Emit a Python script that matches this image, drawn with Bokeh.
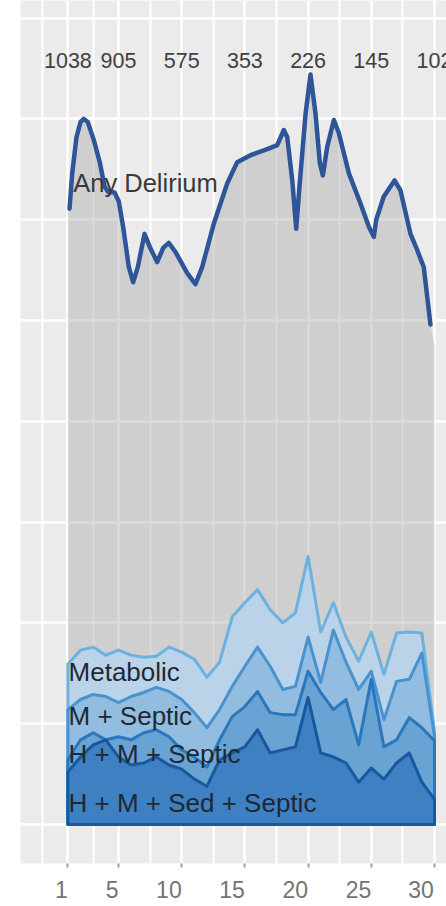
from bokeh.plotting import figure
from bokeh.models import FixedTicker
from bokeh.core.properties import value
from bokeh.embed import file_html
from bokeh.resources import INLINE

# ---------------- data ----------------
days = list(range(1, 31))

# "Any Delirium" curve: day, percent
any_days = [1.0, 1.13, 1.34, 1.68, 2.0, 2.26, 2.57, 3.05, 3.52, 3.9, 4.16, 4.69,
            5.03, 5.37, 5.82, 6.16, 6.53, 7.06, 7.48, 8.06, 8.54, 8.98, 9.51,
            10.44, 11.09, 11.62, 12.54, 13.6, 14.39, 15.45, 16.77, 17.56, 18.08,
            18.35, 18.75, 19.06, 19.32, 19.8, 20.19, 20.59, 20.93, 21.17, 21.51,
            22.04, 22.43, 23.23, 24.15, 24.81, 25.2, 25.39, 25.99, 26.84, 27.31,
            28.1, 28.63, 29.15, 29.68, 30.0]
any_vals = [61.2, 61.1, 64.6, 68.2, 69.7, 70.0, 69.7, 67.9, 65.7, 63.3, 62.8, 62.7,
            61.8, 59.3, 55.3, 53.8, 55.3, 58.6, 57.3, 55.8, 57.2, 57.7, 56.8,
            54.7, 53.6, 55.3, 59.6, 63.6, 65.7, 66.4, 67.0, 67.4, 68.9,
            68.2, 63.9, 59.1, 63.3, 70.5, 74.4, 70.5, 65.6, 64.4, 67.2,
            69.9, 68.6, 64.6, 61.6, 59.3, 58.3, 60.0, 62.3, 63.9, 62.9,
            58.6, 57.0, 55.3, 49.6, 47.6]

# stacked (cumulative) subtype curves, percent per day
metabolic = [15.9, 17.3, 17.6, 16.8, 17.3, 16.8, 16.6, 16.7, 17.6, 17.1,
             16.4, 14.6, 16.1, 20.6, 22.0, 23.3, 21.3, 20.0, 21.0, 26.6,
             19.1, 22.0, 18.6, 16.2, 19.1, 14.9, 19.0, 19.1, 19.0, 9.2]
m_septic = [11.4, 12.4, 12.9, 12.7, 12.1, 12.7, 13.1, 13.6, 13.2, 12.4,
            11.1, 9.6, 11.4, 13.7, 15.7, 17.6, 15.7, 13.4, 13.7, 18.6,
            14.1, 19.3, 16.1, 13.4, 15.2, 10.4, 14.2, 14.4, 17.0, 8.7]
hm_septic = [6.4, 8.4, 9.1, 8.4, 8.7, 8.4, 9.1, 9.4, 8.7, 7.4,
             6.7, 5.7, 8.4, 10.7, 11.7, 13.2, 11.1, 10.9, 10.9, 15.2,
             13.1, 11.4, 12.4, 7.9, 14.4, 7.7, 8.4, 10.6, 9.6, 8.3]
hmsed_septic = [5.2, 6.7, 7.9, 8.4, 6.7, 5.9, 6.1, 6.7, 5.9, 5.5,
                4.5, 3.8, 6.4, 7.1, 7.7, 9.4, 7.1, 7.4, 7.7, 12.6,
                7.1, 6.7, 6.1, 4.2, 5.6, 4.5, 6.1, 7.1, 4.2, 2.5]

layer_names = ["Metabolic", "M + Septic", "H + M + Septic", "H + M + Sed + Septic"]
any_name = "Any Delirium"

risk_days = [1, 5, 10, 15, 20, 25, 30]
risk_counts = ["1038", "905", "575", "353", "226", "145", "102"]

x_ticks = [1, 5, 10, 15, 20, 25, 30]
x_minor = [-1, 3, 7.5, 12.5, 17.5, 22.5, 27.5, 32]
y_grid = [0, 10, 20, 30, 40, 50, 60, 70, 80]

# ---------------- positions & styles ----------------
layer_fills = ["#BBD3E8", "#92BDE0", "#69A3D4", "#3E80C2"]
layer_lines = ["#6DB2DF", "#4893CF", "#2B77BC", "#17589F"]
label_x = 1.05
label_y = [15.1, 10.8, 7.0, 2.1]
any_label_x = 1.42
any_label_y = 63.6
risk_y = 75.8
tick_label_pad = [2, 2, 4, 4, 4, 4, 2]   # no-break spaces that push each label left of its tick
FONT = "Liberation Sans"

p = figure(width=446, height=906,
           x_range=(-2.75, 30.95), y_range=(-3.87, 81.75),
           output_backend="svg", toolbar_location=None,
           y_axis_location=None,
           min_border_left=20, min_border_right=0,
           min_border_top=0, min_border_bottom=43,
           background_fill_color="#EBEBEB", border_fill_color="white",
           outline_line_color=None)

# grid
p.xgrid.ticker = FixedTicker(ticks=x_ticks, minor_ticks=x_minor)
p.xgrid.grid_line_color = "white"
p.xgrid.grid_line_width = 2.5
p.xgrid.minor_grid_line_color = "white"
p.xgrid.minor_grid_line_width = 2
p.ygrid.ticker = FixedTicker(ticks=y_grid)
p.ygrid.grid_line_color = "white"
p.ygrid.grid_line_width = 2.5

# x axis
ax = p.xaxis[0]
ax.ticker = FixedTicker(ticks=x_ticks)
ax.axis_line_color = None
ax.major_tick_line_color = "#A0A0A0"
ax.major_tick_line_width = 2
ax.major_tick_out = 4
ax.major_tick_in = 0
ax.minor_tick_line_color = None
ax.major_label_standoff = 9
ax.major_label_text_font = FONT
ax.major_label_text_font_size = "23px"
ax.major_label_text_color = "#747474"
ax.major_label_overrides = {t: str(t) + "\u00a0" * n for t, n in zip(x_ticks, tick_label_pad)}

# any delirium area
p.varea(x=any_days, y1=0, y2=any_vals, fill_color="#ADADAD", fill_alpha=0.45)

# stacked subtype areas
for vals, fc, lc in zip([metabolic, m_septic, hm_septic, hmsed_septic], layer_fills, layer_lines):
    xs = days + days[::-1]
    ys = vals + [0] * len(days)
    p.patch(xs, ys, fill_color=fc, line_color=lc, line_width=3, line_join="round")

# outline of the any delirium curve
p.line(any_days[1:-1], any_vals[1:-1], line_color="#2E5597", line_width=4.5,
       line_join="round", line_cap="round")

# labels
p.text(x=[any_label_x], y=[any_label_y], text=[any_name], text_font=value(FONT),
       text_font_size="25.5px", text_color="#3A3A3A", text_align="left",
       text_baseline="middle")
p.text(x=[label_x] * len(layer_names), y=label_y, text=layer_names, text_font=value(FONT),
       text_font_size="26px", text_color="#1F2833", text_align="left",
       text_baseline="middle")
p.text(x=risk_days, y=[risk_y] * len(risk_days), text=risk_counts, text_font=value(FONT),
       text_font_size="21.5px", text_color="#404040", text_align="center",
       text_baseline="middle")

open("out.html", "w").write(file_html(p, INLINE))
